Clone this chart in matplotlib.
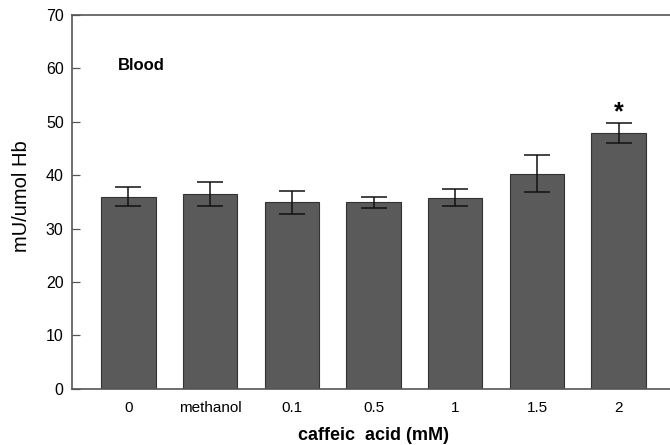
import matplotlib.pyplot as plt

categories = ['0', 'methanol', '0.1', '0.5', '1', '1.5', '2']
values = [36.0, 36.5, 34.9, 34.9, 35.8, 40.3, 47.9]
errors = [1.7, 2.2, 2.1, 1.0, 1.6, 3.4, 1.9]

plt.rcParams['font.family'] = ['Liberation Sans', 'DejaVu Sans']

fig = plt.figure(figsize=(6.7, 4.45), dpi=100)
ax = fig.add_axes([0.1075, 0.126, 0.9, 0.8405])

x = list(range(len(categories)))
ax.bar(x, values, width=0.667, color='#5a5a5a', edgecolor='#333333', linewidth=0.8)
ax.errorbar(x, values, yerr=errors, fmt='none', ecolor='#111111',
            elinewidth=1.1, capsize=9.7, capthick=1.1)

# significance marker on the last bar
ax.text(6, values[6] + errors[6] - 0.3, '*', ha='center', va='bottom',
        fontsize=18, fontweight='bold')

ax.text(0.076, 0.866, 'Blood', transform=ax.transAxes, fontsize=12,
        fontweight='bold', ha='left', va='center')

ax.set_xlim(-0.69, 6.69)
ax.set_ylim(0, 70)
ax.set_yticks(range(0, 71, 10))
ax.set_xticks(x)
ax.set_xticklabels(categories, fontsize=11)
ax.tick_params(axis='y', labelsize=11.5, direction='in', length=6, width=0.9,
               color='#555555', pad=6)
ax.tick_params(axis='x', length=0, pad=9)

for side in ['left', 'bottom', 'top']:
    ax.spines[side].set_color('#555555')
    ax.spines[side].set_linewidth(1.2)
ax.spines['right'].set_visible(False)

ax.set_ylabel('mU/umol Hb', fontsize=14.5)
ax.yaxis.set_label_coords(-0.068, 0.515)
ax.set_xlabel('caffeic  acid (mM)', fontsize=13, fontweight='bold', labelpad=8)

fig.savefig('out.png', dpi=100)
